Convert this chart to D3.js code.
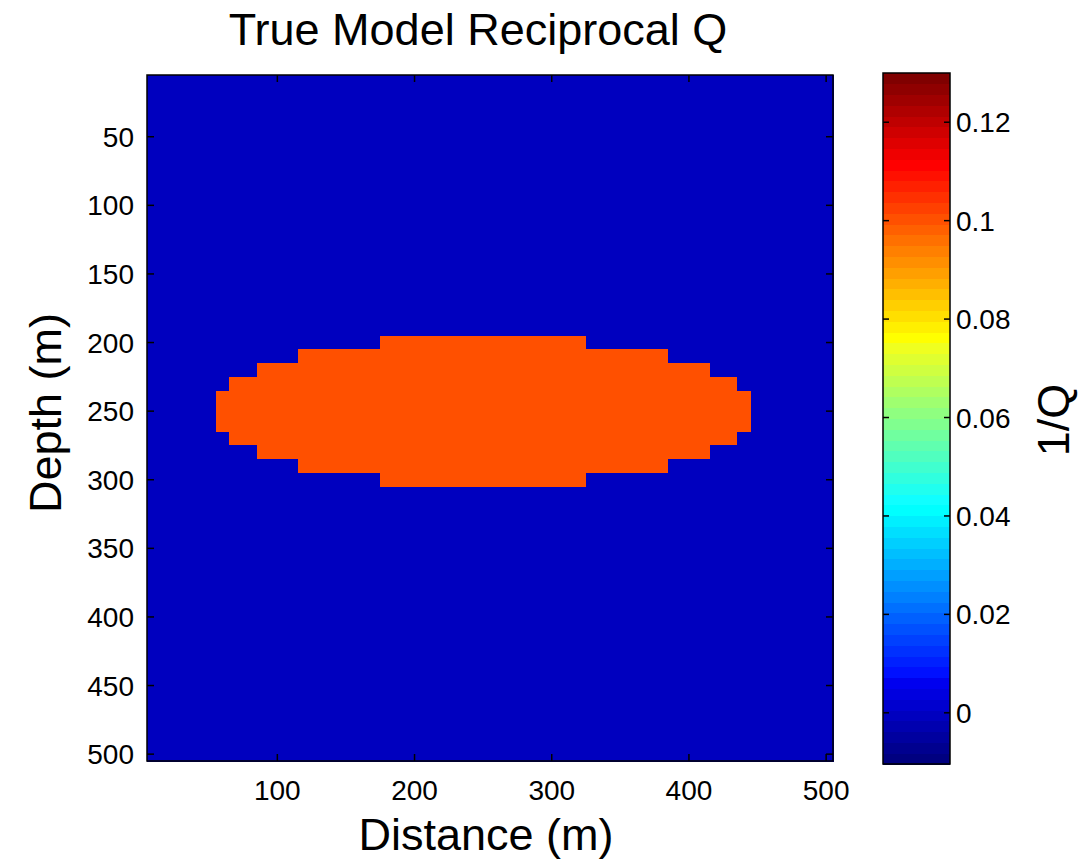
<!DOCTYPE html>
<html>
<head>
<meta charset="utf-8">
<script src="https://cdn.jsdelivr.net/npm/d3@7"></script>
<style>
  body { margin: 0; background: #fff; }
  svg text { font-family: "Liberation Sans", Arial, sans-serif; fill: #000; }
</style>
</head>
<body>
<div id="chart"></div>
<script>
// grid cell centres (m)
const distances = [10,20,30,40,50,60,70,80,90,100,110,120,130,140,150,160,170,180,190,200,
  210,220,230,240,250,260,270,280,290,300,310,320,330,340,350,360,370,380,390,400,
  410,420,430,440,450,460,470,480,490,500];
const depths = distances.slice();

// anomaly rows: depth, first and last distance inside the body
const anomalyDepths = [200, 210, 220, 230, 240, 250, 260, 270, 280, 290, 300];
const anomalyXStart = [180, 120, 90, 70, 60, 60, 60, 70, 90, 120, 180];
const anomalyXEnd   = [320, 380, 410, 430, 440, 440, 440, 430, 410, 380, 320];
const backgroundValue = 0;
const anomalyValue = 0.1;

const xTicks = [100, 200, 300, 400, 500];
const yTicks = [50, 100, 150, 200, 250, 300, 350, 400, 450, 500];
const cbTicks = [0, 0.02, 0.04, 0.06, 0.08, 0.1, 0.12];
const cLimits = [-0.0104, 0.13];

const width = 1092, height = 865;
const plot = { left: 147, right: 833, top: 75, bottom: 761 };
const cbar = { left: 883, right: 950, top: 73, bottom: 764 };

const svg = d3.select("#chart").append("svg")
    .attr("width", width)
    .attr("height", height);

const xScale = d3.scaleLinear().domain([5, 505]).range([plot.left, plot.right]);
const yScale = d3.scaleLinear().domain([5, 505]).range([plot.top, plot.bottom]);

// MATLAB jet(64)
function jetColor(k) {
    const u = j => j <= 16 ? j / 16 : (j <= 31 ? 1 : (48 - j) / 16);
    const r = k >= 25 ? u(k - 24) : 0;
    const g = (k >= 9 && k <= 55) ? u(k - 8) : 0;
    const b = k <= 39 ? u(k + 7) : 0;
    return d3.rgb(Math.round(r * 255), Math.round(g * 255), Math.round(b * 255)).formatHex();
}
const jet = d3.range(1, 65).map(jetColor);
const colorScale = d3.scaleQuantize().domain(cLimits).range(jet);

// build the model grid
const cells = [];
depths.forEach(z => {
    const row = anomalyDepths.indexOf(z);
    distances.forEach(x => {
        let v = backgroundValue;
        if (row >= 0 && x >= anomalyXStart[row] && x <= anomalyXEnd[row]) v = anomalyValue;
        cells.push({ x, z, v });
    });
});

const cw = xScale(10) - xScale(0);
const ch = yScale(10) - yScale(0);

svg.append("g")
    .selectAll("rect")
    .data(cells)
    .join("rect")
    .attr("x", d => xScale(d.x - 5))
    .attr("y", d => yScale(d.z - 5))
    .attr("width", cw + 0.5)
    .attr("height", ch + 0.5)
    .attr("fill", d => colorScale(d.v))
    .attr("shape-rendering", "crispEdges");

// axes box + inward ticks on all sides
const axisG = svg.append("g").attr("stroke", "#000").attr("stroke-width", 1.5).attr("fill", "none");
axisG.append("rect")
    .attr("x", plot.left).attr("y", plot.top)
    .attr("width", plot.right - plot.left).attr("height", plot.bottom - plot.top);

const tl = 7;
xTicks.forEach(t => {
    axisG.append("line").attr("x1", xScale(t)).attr("x2", xScale(t))
        .attr("y1", plot.bottom).attr("y2", plot.bottom - tl);
    axisG.append("line").attr("x1", xScale(t)).attr("x2", xScale(t))
        .attr("y1", plot.top).attr("y2", plot.top + tl);
});
yTicks.forEach(t => {
    axisG.append("line").attr("y1", yScale(t)).attr("y2", yScale(t))
        .attr("x1", plot.left).attr("x2", plot.left + tl);
    axisG.append("line").attr("y1", yScale(t)).attr("y2", yScale(t))
        .attr("x1", plot.right).attr("x2", plot.right - tl);
});

svg.append("g").selectAll("text")
    .data(xTicks)
    .join("text")
    .attr("x", d => xScale(d))
    .attr("y", 800)
    .attr("text-anchor", "middle")
    .attr("font-size", 28)
    .text(d => d);

svg.append("g").selectAll("text")
    .data(yTicks)
    .join("text")
    .attr("x", 134)
    .attr("y", d => yScale(d))
    .attr("dy", "0.36em")
    .attr("text-anchor", "end")
    .attr("font-size", 28)
    .text(d => d);

// titles
svg.append("text")
    .attr("x", 478).attr("y", 45)
    .attr("text-anchor", "middle")
    .attr("font-size", 45)
    .text("True Model Reciprocal Q");

svg.append("text")
    .attr("x", 486).attr("y", 850)
    .attr("text-anchor", "middle")
    .attr("font-size", 45)
    .text("Distance (m)");

svg.append("text")
    .attr("transform", "translate(61,413) rotate(-90)")
    .attr("text-anchor", "middle")
    .attr("font-size", 45)
    .text("Depth (m)");

// colorbar
const cbScale = d3.scaleLinear().domain(cLimits).range([cbar.bottom, cbar.top]);
const step = (cLimits[1] - cLimits[0]) / jet.length;

svg.append("g")
    .selectAll("rect")
    .data(jet)
    .join("rect")
    .attr("x", cbar.left)
    .attr("width", cbar.right - cbar.left)
    .attr("y", (d, i) => cbScale(cLimits[0] + (i + 1) * step))
    .attr("height", cbScale(0) - cbScale(step) + 0.5)
    .attr("fill", d => d)
    .attr("shape-rendering", "crispEdges");

const cbG = svg.append("g").attr("stroke", "#000").attr("stroke-width", 1.5).attr("fill", "none");
cbG.append("rect")
    .attr("x", cbar.left).attr("y", cbar.top)
    .attr("width", cbar.right - cbar.left).attr("height", cbar.bottom - cbar.top);
cbTicks.forEach(t => {
    cbG.append("line").attr("y1", cbScale(t)).attr("y2", cbScale(t))
        .attr("x1", cbar.left).attr("x2", cbar.left + 6);
    cbG.append("line").attr("y1", cbScale(t)).attr("y2", cbScale(t))
        .attr("x1", cbar.right).attr("x2", cbar.right - 6);
});

svg.append("g").selectAll("text")
    .data(cbTicks)
    .join("text")
    .attr("x", 956)
    .attr("y", d => cbScale(d))
    .attr("dy", "0.36em")
    .attr("font-size", 28)
    .text(d => d);

svg.append("text")
    .attr("transform", "translate(1069,420) rotate(-90)")
    .attr("text-anchor", "middle")
    .attr("font-size", 45)
    .text("1/Q");
</script>
</body>
</html>
